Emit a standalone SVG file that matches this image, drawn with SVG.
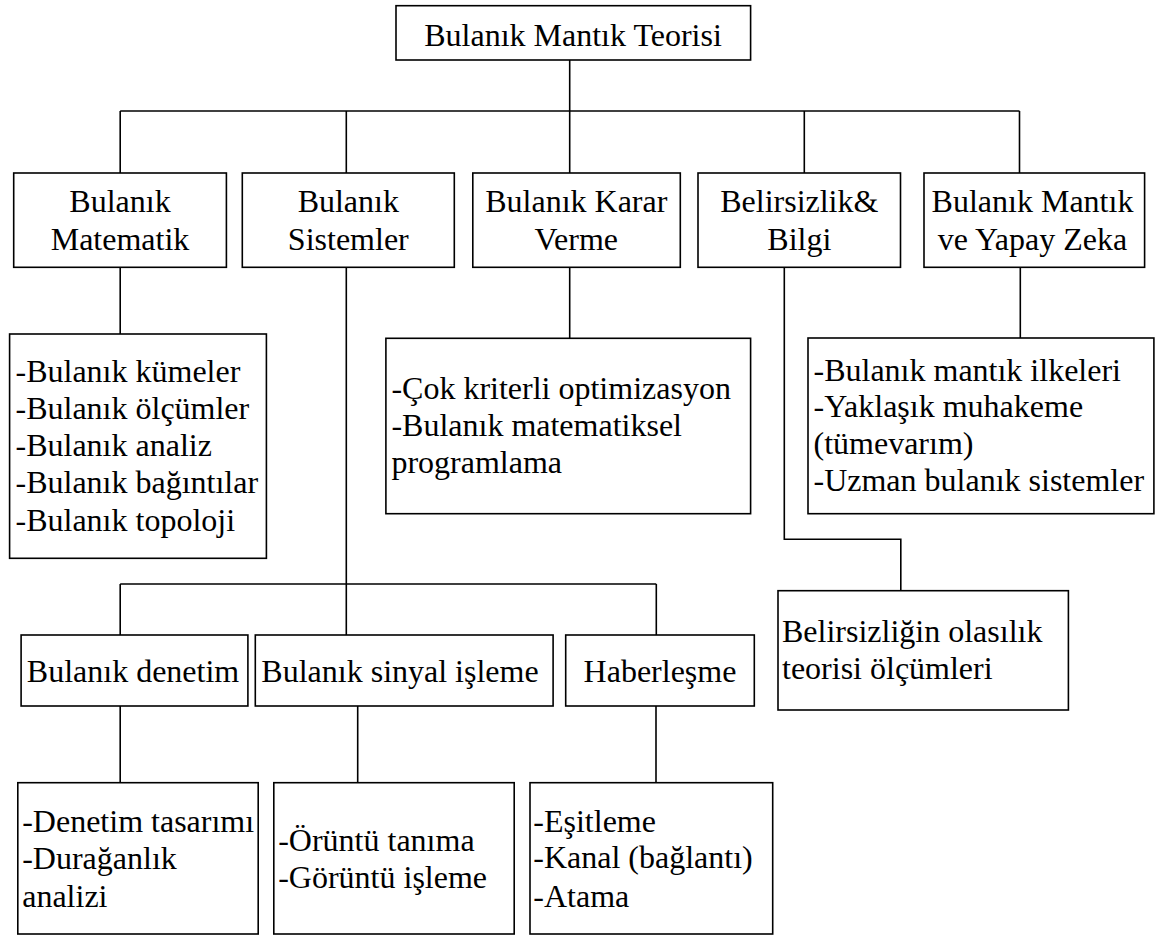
<svg xmlns="http://www.w3.org/2000/svg" width="1156" height="936" viewBox="0 0 1156 936">
<style>
.box{fill:#fff;stroke:#000;stroke-width:1.6}
.ln{fill:none;stroke:#000;stroke-width:1.6}
.t{font-size:32px;fill:#000}
.c{text-anchor:middle}
</style>
<rect x="0" y="0" width="1156" height="936" fill="#fff"/>
<g id="connectors" class="ln">
<path d="M569.7,60 V111"/>
<path d="M120.2,111 H1019.5"/>
<path d="M120.2,111 V173 M346.3,111 V173 M569.7,111 V173 M804.3,111 V173 M1019.5,111 V173"/>
<path d="M120.2,267.3 V334"/>
<path d="M346.3,267.3 V635"/>
<path d="M569.7,267.3 V338.3"/>
<path d="M784.3,267.3 V539.3 H900.8 V590.7"/>
<path d="M1020.3,267.3 V338"/>
<path d="M120.2,584 H656.3 M120.2,584 V635 M656.3,584 V635"/>
<path d="M120.2,706 V782.7 M357.7,706 V782.7 M656,706 V782.7"/>
</g>
<g id="root" font-family="'Liberation Serif', 'Times New Roman', serif">
<rect class="box" x="396" y="5.7" width="354.6" height="54.3"/>
<text class="t c" x="573" y="46">Bulanık Mantık Teorisi</text>
</g>
<g id="matematik" font-family="'Liberation Serif', 'Times New Roman', serif">
<rect class="box" x="13.7" y="173" width="212.7" height="94.3"/>
<text class="t c" x="120" y="212.3">Bulanık</text>
<text class="t c" x="120" y="250">Matematik</text>
</g>
<g id="sistemler" font-family="'Liberation Serif', 'Times New Roman', serif">
<rect class="box" x="242.3" y="173" width="212" height="94.3"/>
<text class="t c" x="348.3" y="212.3">Bulanık</text>
<text class="t c" x="348.3" y="250">Sistemler</text>
</g>
<g id="karar" font-family="'Liberation Serif', 'Times New Roman', serif">
<rect class="box" x="472.8" y="173" width="207.5" height="94.3"/>
<text class="t c" x="576.3" y="212.3">Bulanık Karar</text>
<text class="t c" x="576.3" y="250">Verme</text>
</g>
<g id="belirsizlik" font-family="'Liberation Serif', 'Times New Roman', serif">
<rect class="box" x="698" y="173" width="202.5" height="94.3"/>
<text class="t c" x="799.3" y="212.3">Belirsizlik&amp;</text>
<text class="t c" x="799.3" y="250">Bilgi</text>
</g>
<g id="yapayzeka" font-family="'Liberation Serif', 'Times New Roman', serif">
<rect class="box" x="924" y="173" width="220.6" height="94.3"/>
<text class="t c" x="1032.5" y="212.3">Bulanık Mantık</text>
<text class="t c" x="1032.5" y="250">ve Yapay Zeka</text>
</g>
<g id="matematik-detay" font-family="'Liberation Serif', 'Times New Roman', serif">
<rect class="box" x="9.6" y="334" width="256.8" height="224.3"/>
<text class="t" x="15.5" y="381.7">-Bulanık kümeler</text>
<text class="t" x="15.5" y="419">-Bulanık ölçümler</text>
<text class="t" x="15.5" y="456.3">-Bulanık analiz</text>
<text class="t" x="15.5" y="493.3">-Bulanık bağıntılar</text>
<text class="t" x="15.5" y="530.7">-Bulanık topoloji</text>
</g>
<g id="karar-detay" font-family="'Liberation Serif', 'Times New Roman', serif">
<rect class="box" x="385.9" y="338.3" width="364.7" height="175.4"/>
<text class="t" x="391.4" y="399.3">-Çok kriterli optimizasyon</text>
<text class="t" x="391.4" y="436">-Bulanık matematiksel</text>
<text class="t" x="391.4" y="472.7">programlama</text>
</g>
<g id="yapayzeka-detay" font-family="'Liberation Serif', 'Times New Roman', serif">
<rect class="box" x="808" y="338" width="345.9" height="175.7"/>
<text class="t" x="813.5" y="380.7">-Bulanık mantık ilkeleri</text>
<text class="t" x="813.5" y="417.3">-Yaklaşık muhakeme</text>
<text class="t" x="813.5" y="454">(tümevarım)</text>
<text class="t" x="813.5" y="490.7">-Uzman bulanık sistemler</text>
</g>
<g id="belirsizlik-detay" font-family="'Liberation Serif', 'Times New Roman', serif">
<rect class="box" x="778" y="590.7" width="290.4" height="119.3"/>
<text class="t" x="782" y="641.7">Belirsizliğin olasılık</text>
<text class="t" x="782" y="679.3">teorisi ölçümleri</text>
</g>
<g id="denetim" font-family="'Liberation Serif', 'Times New Roman', serif">
<rect class="box" x="21.1" y="635" width="226.8" height="71"/>
<text class="t c" x="133" y="681.7">Bulanık denetim</text>
</g>
<g id="sinyal" font-family="'Liberation Serif', 'Times New Roman', serif">
<rect class="box" x="255.3" y="635" width="297.8" height="71"/>
<text class="t c" x="400" y="681.7">Bulanık sinyal işleme</text>
</g>
<g id="haberlesme" font-family="'Liberation Serif', 'Times New Roman', serif">
<rect class="box" x="565.7" y="635" width="188.6" height="71"/>
<text class="t c" x="660" y="681.7">Haberleşme</text>
</g>
<g id="denetim-detay" font-family="'Liberation Serif', 'Times New Roman', serif">
<rect class="box" x="17.8" y="782.7" width="240.4" height="151.3"/>
<text class="t" x="22.2" y="832.3">-Denetim tasarımı</text>
<text class="t" x="22.2" y="869.3">-Durağanlık</text>
<text class="t" x="22.2" y="906.7">analizi</text>
</g>
<g id="sinyal-detay" font-family="'Liberation Serif', 'Times New Roman', serif">
<rect class="box" x="273.8" y="782.7" width="240.4" height="151.3"/>
<text class="t" x="278.2" y="850.7">-Örüntü tanıma</text>
<text class="t" x="278.2" y="888">-Görüntü işleme</text>
</g>
<g id="haberlesme-detay" font-family="'Liberation Serif', 'Times New Roman', serif">
<rect class="box" x="530" y="782.7" width="242.7" height="151.3"/>
<text class="t" x="533.3" y="831.7">-Eşitleme</text>
<text class="t" x="533.3" y="868.3">-Kanal (bağlantı)</text>
<text class="t" x="533.3" y="906.7">-Atama</text>
</g>
</svg>
